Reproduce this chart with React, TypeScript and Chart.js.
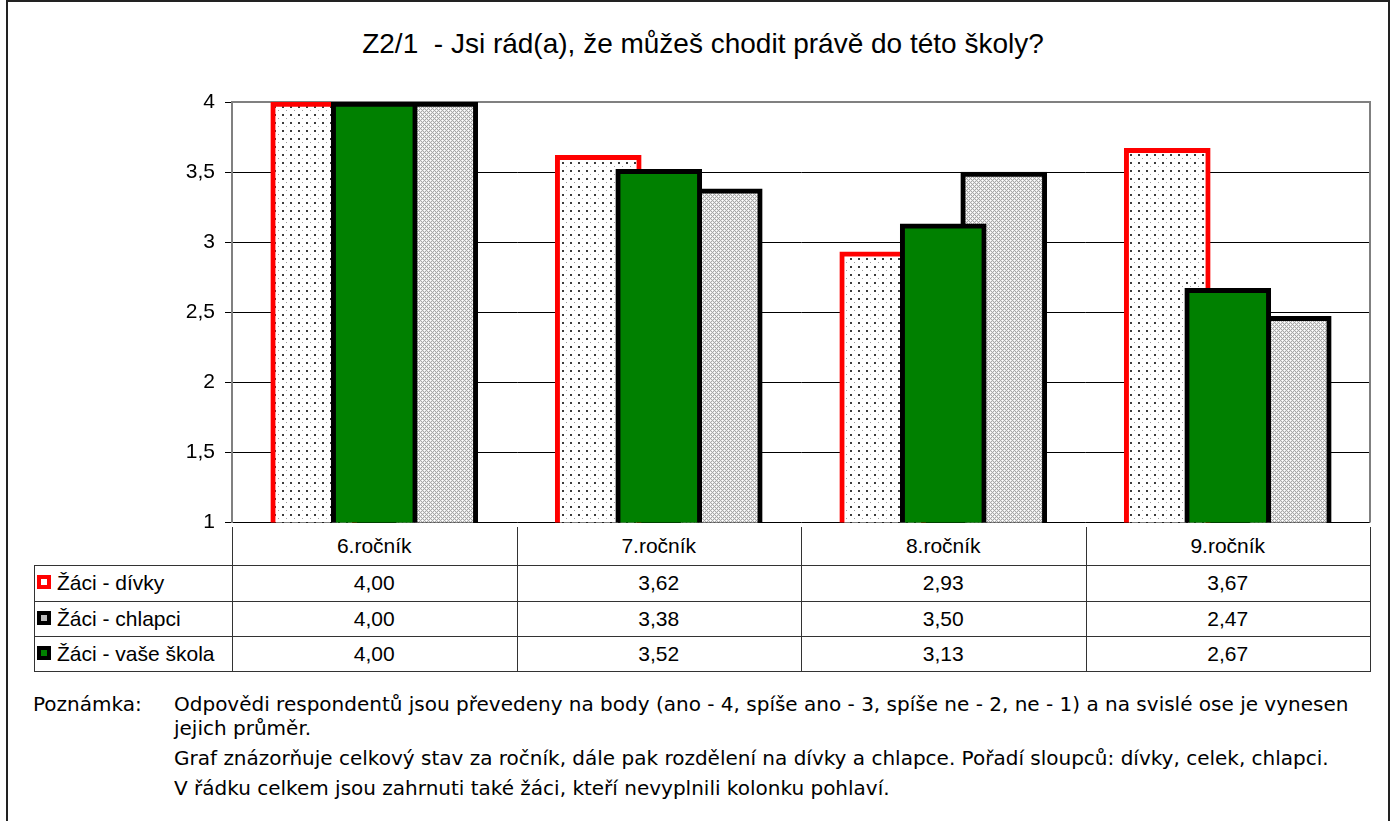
import React, { useEffect, useRef } from 'react';
import { Chart, registerables } from 'chart.js';

Chart.register(...registerables);

const categories = ['6.ročník', '7.ročník', '8.ročník', '9.ročník'];
const girls = [4.0, 3.62, 2.93, 3.67];
const boys = [4.0, 3.38, 3.5, 2.47];
const school = [4.0, 3.52, 3.13, 2.67];
const seriesNames = ['Žáci - dívky', 'Žáci - chlapci', 'Žáci - vaše škola'];
const yMin = 1;
const yMax = 4;
const yStep = 0.5;
const titleText = 'Z2/1  - Jsi rád(a), že můžeš chodit právě do této školy?';
const noteLabel = 'Poznámka:';
const noteLines = [
  'Odpovědi respondentů jsou převedeny na body (ano - 4, spíše ano - 3, spíše ne - 2, ne - 1) a na svislé ose je vynesen',
  'jejich průměr.',
  'Graf znázorňuje celkový stav za ročník, dále pak rozdělení na dívky a chlapce. Pořadí sloupců: dívky, celek, chlapci.',
  'V řádku celkem jsou zahrnuti také žáci, kteří nevyplnili kolonku pohlaví.',
];

// layout constants
const W = 1392;
const H = 821;
const PL = 232;
const PR = 1370;
const PT = 102;
const PB = 527;
const CANVAS_H = 545;
const BAR_W = 86;
const BAR_SHIFT = 60.5; // px between neighbouring bars
const ROW_LINES = [565, 601, 636, 671];
const TABLE_LEFT = 34;
const FONT = "'Liberation Sans', Arial, sans-serif";
const NOTE_FONT = "'DejaVu Sans', Verdana, sans-serif";
const TEXT_SIZE = 21;

const fmt = (v: number) => v.toFixed(2).replace('.', ',');

function makeDotPattern(ctx: CanvasRenderingContext2D) {
  const c = document.createElement('canvas');
  c.width = 8;
  c.height = 8;
  const g = c.getContext('2d')!;
  g.fillStyle = '#ffffff';
  g.fillRect(0, 0, 8, 8);
  g.fillStyle = '#3a3a3a';
  g.fillRect(2, 2, 2, 2);
  g.fillStyle = '#9a9a9a';
  g.fillRect(6, 6, 1, 1);
  return ctx.createPattern(c, 'repeat')!;
}

function makeGrayPattern(ctx: CanvasRenderingContext2D) {
  const c = document.createElement('canvas');
  c.width = 4;
  c.height = 4;
  const g = c.getContext('2d')!;
  for (let y = 0; y < 4; y++) {
    for (let x = 0; x < 4; x++) {
      g.fillStyle = (x + y) % 2 === 0 ? '#a8a8a8' : '#e8e8e8';
      g.fillRect(x, y, 1, 1);
    }
  }
  g.fillStyle = '#ffffff';
  g.fillRect(0, 2, 1, 1);
  g.fillRect(2, 0, 1, 1);
  return ctx.createPattern(c, 'repeat')!;
}

const plotBorder = {
  id: 'plotBorder',
  beforeDatasetsDraw(chart: any) {
    const { ctx, chartArea } = chart;
    ctx.save();
    ctx.strokeStyle = '#808080';
    ctx.lineWidth = 2;
    ctx.beginPath();
    ctx.moveTo(chartArea.left, chartArea.top);
    ctx.lineTo(chartArea.right, chartArea.top);
    ctx.lineTo(chartArea.right, chartArea.bottom);
    ctx.stroke();
    ctx.restore();
  },
};

function BarChart() {
  const ref = useRef<HTMLCanvasElement>(null);
  useEffect(() => {
    const canvas = ref.current!;
    const ctx = canvas.getContext('2d')!;
    const colW = (PR - PL) / categories.length;
    const off = BAR_SHIFT / colW;
    const chart = new Chart(ctx, {
      type: 'bar',
      data: {
        datasets: [
          {
            label: seriesNames[2],
            data: school.map((v, i) => ({ x: i, y: v })),
            backgroundColor: '#008000',
            borderColor: '#000000',
            borderWidth: 5,
            order: 0,
          },
          {
            label: seriesNames[1],
            data: boys.map((v, i) => ({ x: i + off, y: v })),
            backgroundColor: makeGrayPattern(ctx),
            borderColor: '#000000',
            borderWidth: 5,
            order: 1,
          },
          {
            label: seriesNames[0],
            data: girls.map((v, i) => ({ x: i - off, y: v })),
            backgroundColor: makeDotPattern(ctx),
            borderColor: '#ff0000',
            borderWidth: 5,
            order: 2,
          },
        ] as any,
      },
      options: {
        animation: false,
        responsive: false,
        maintainAspectRatio: false,
        layout: { padding: { left: 0, top: PT, right: W - PR, bottom: CANVAS_H - PB } },
        datasets: { bar: { grouped: false, barThickness: BAR_W, borderSkipped: false } } as any,
        plugins: {
          legend: { display: false },
          tooltip: { enabled: false },
          title: { display: false },
        },
        scales: {
          x: {
            type: 'linear',
            min: -0.5,
            max: categories.length - 0.5,
            offset: false,
            display: false,
          },
          y: {
            min: yMin,
            max: yMax,
            afterFit: (s: any) => {
              s.width = PL;
            },
            ticks: {
              stepSize: yStep,
              color: '#000',
              padding: 10,
              font: { family: FONT, size: TEXT_SIZE },
              callback: (v: any) => String(v).replace('.', ','),
            },
            grid: { color: '#000', lineWidth: 1, tickLength: 7, tickColor: '#000' },
            border: { color: '#808080', width: 2 },
          },
        } as any,
      },
      plugins: [plotBorder],
    });
    return () => chart.destroy();
  }, []);
  return (
    <canvas
      ref={ref}
      width={W}
      height={CANVAS_H}
      style={{ position: 'absolute', left: 0, top: 0, width: W, height: CANVAS_H }}
    />
  );
}

const lineColor = '#333';

function DataTable() {
  const colW = (PR - PL) / categories.length;
  const els: React.ReactNode[] = [];
  ROW_LINES.forEach((y, i) => {
    els.push(
      <div key={'h' + i} style={{ position: 'absolute', left: TABLE_LEFT, top: y, width: PR - TABLE_LEFT + 1, height: 1, background: lineColor }} />
    );
  });
  for (let i = 0; i <= categories.length; i++) {
    const x = Math.round(PL + i * colW);
    els.push(
      <div key={'v' + i} style={{ position: 'absolute', left: x, top: PB, width: 1, height: ROW_LINES[3] - PB + 1, background: lineColor }} />
    );
  }
  els.push(
    <div key="vl" style={{ position: 'absolute', left: TABLE_LEFT, top: ROW_LINES[0], width: 1, height: ROW_LINES[3] - ROW_LINES[0] + 1, background: lineColor }} />
  );
  const textStyle: React.CSSProperties = {
    position: 'absolute',
    fontFamily: FONT,
    fontSize: TEXT_SIZE,
    color: '#000',
    textAlign: 'center',
    whiteSpace: 'nowrap',
  };
  categories.forEach((c, i) => {
    els.push(
      <div key={'c' + i} style={{ ...textStyle, left: PL + i * colW, width: colW, top: PB, height: ROW_LINES[0] - PB, lineHeight: ROW_LINES[0] - PB + 'px' }}>{c}</div>
    );
  });
  const rows = [girls, boys, school];
  const keys: React.CSSProperties[] = [
    { border: '4px solid #ff0000', background: '#ffffff' },
    { border: '4px solid #000000', background: '#bdbdbd' },
    { border: '4px solid #000000', background: '#008000' },
  ];
  rows.forEach((vals, r) => {
    const top = ROW_LINES[r];
    const h = ROW_LINES[r + 1] - top;
    const mid = top + h / 2;
    els.push(
      <div key={'k' + r} style={{ position: 'absolute', left: 37, top: Math.round(mid - 8), width: 14, height: 14, boxSizing: 'border-box', ...keys[r] }} />
    );
    els.push(
      <div key={'n' + r} style={{ ...textStyle, textAlign: 'left', left: 57, top, height: h, lineHeight: h + 'px' }}>{seriesNames[r]}</div>
    );
    vals.forEach((v, i) => {
      els.push(
        <div key={'d' + r + '-' + i} style={{ ...textStyle, left: PL + i * colW, width: colW, top, height: h, lineHeight: h + 'px' }}>{fmt(v)}</div>
      );
    });
  });
  return <>{els}</>;
}

function Notes() {
  const tops = [692, 716, 746, 776];
  const base: React.CSSProperties = {
    position: 'absolute',
    fontFamily: NOTE_FONT,
    fontSize: 20,
    lineHeight: '24px',
    color: '#000',
    whiteSpace: 'nowrap',
  };
  return (
    <>
      <div style={{ ...base, left: 33, top: tops[0] }}>{noteLabel}</div>
      {noteLines.map((l, i) => (
        <div key={i} style={{ ...base, left: 174, top: tops[i] }}>{l}</div>
      ))}
    </>
  );
}

export default function App() {
  return (
    <div style={{ position: 'fixed', left: 0, top: 0, width: W, height: H, background: '#fff', overflow: 'hidden' }}>
      <div style={{ position: 'absolute', left: 6, top: 0, width: 1384, height: H + 20, boxSizing: 'border-box', border: '2px solid #222' }} />
      <div
        style={{
          position: 'absolute',
          left: 703 - 500,
          width: 1000,
          top: 28,
          lineHeight: '32px',
          textAlign: 'center',
          fontFamily: FONT,
          fontSize: 28,
          color: '#000',
          whiteSpace: 'pre',
        }}
      >
        {titleText}
      </div>
      <DataTable />
      <BarChart />
      <Notes />
    </div>
  );
}
